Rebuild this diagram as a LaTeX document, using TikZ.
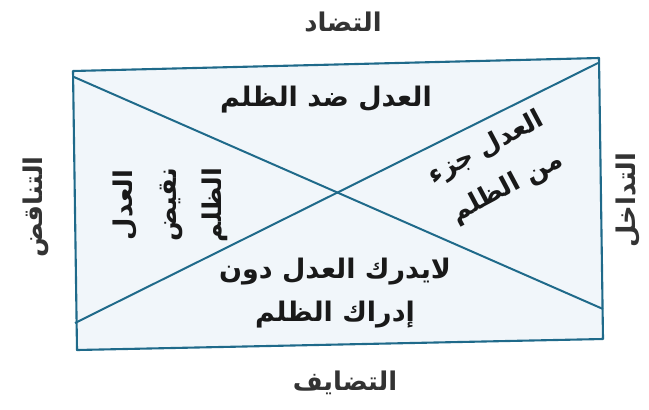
\documentclass[tikz,border=0pt]{standalone}
\usepackage{fontspec}
\newfontfamily\arabicfont[Script=Arabic]{DejaVu Sans}
\TeXXeTstate=1
\definecolor{edgeblue}{HTML}{1F6A8A}
\definecolor{boxfill}{HTML}{F1F6FA}

\begin{document}
\begin{tikzpicture}[x=0.03cm,y=-0.03cm,
	outer/.style={font=\arabicfont\bfseries\fontsize{22}{26}\selectfont,text=black!80},
	inner/.style={font=\arabicfont\bfseries\fontsize{23}{37}\selectfont,align=center,text=black!90}]
	\useasboundingbox (0,0) rectangle (649,409);
	% corners of the box and ends of the two diagonals
	\coordinate (tl) at (73,71);
	\coordinate (tr) at (599,58);
	\coordinate (br) at (603,339);
	\coordinate (bl) at (77,350);
	\coordinate (diagAstart) at (74,77);
	\coordinate (diagAend) at (603,309);
	\coordinate (diagBstart) at (598,63);
	\coordinate (diagBend) at (75,323);
	\filldraw[fill=boxfill,draw=edgeblue,line width=1.8pt,line join=round] (tl) -- (tr) -- (br) -- (bl) -- cycle;
	\draw[edgeblue,line width=1.7pt] (diagAstart) -- (diagAend);
	\draw[edgeblue,line width=1.7pt] (diagBstart) -- (diagBend);

	% relation names round the box
	\node[outer] (tadad) at (343,22) {\beginR التضاد\endR};
	\node[outer] (tadayuf) at (345,383) {\beginR التضايف\endR};
	\node[outer,rotate=90] (tanaqud) at (36,207) {\beginR التناقض\endR};
	\node[outer,rotate=90] (tadakhul) at (628,200) {\beginR التداخل\endR};

	% statements in the four triangles
	\node[inner] (didd) at (326,100) {\beginR العدل ضد الظلم\endR};
	\node[inner,rotate=90,font=\arabicfont\bfseries\fontsize{22}{38}\selectfont] (naqid) at (170,205) {\beginR العدل\endR\\\beginR نقيض\endR\\\beginR الظلم\endR};
	\node[inner,rotate=28,font=\arabicfont\bfseries\fontsize{22}{38}\selectfont] (juz) at (497,168) {\beginR العدل جزء\endR\\\beginR من الظلم\endR};
	\node[inner] (idrak) at (335,293) {\beginR لايدرك العدل دون\endR\\\beginR إدراك الظلم\endR};
\end{tikzpicture}
\end{document}
